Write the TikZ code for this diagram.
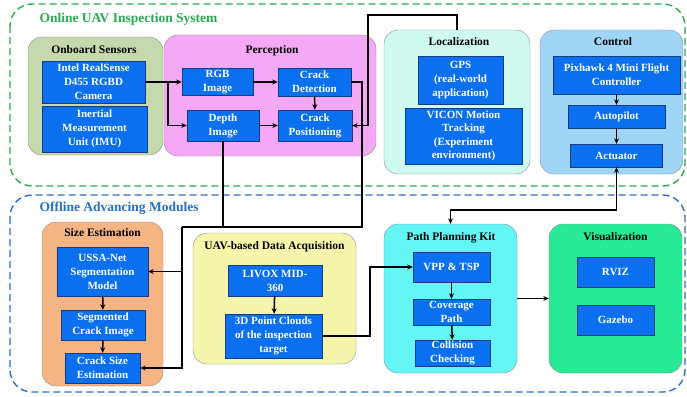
\documentclass[tikz,border=0pt]{standalone}
\usepackage{fontspec}
\setmainfont{Liberation Serif}
\usetikzlibrary{positioning,arrows.meta}

\definecolor{blkblue}{RGB}{10,112,240}
\definecolor{blkedge}{RGB}{20,60,130}
\definecolor{sensgreen}{RGB}{197,217,172}
\definecolor{percpink}{RGB}{245,168,245}
\definecolor{loccyan}{RGB}{206,250,242}
\definecolor{ctrlblue}{RGB}{160,214,245}
\definecolor{sizeorange}{RGB}{245,180,132}
\definecolor{acqyellow}{RGB}{245,245,172}
\definecolor{plancyan}{RGB}{100,245,245}
\definecolor{visgreen}{RGB}{40,234,150}
\definecolor{dashgreen}{RGB}{40,170,80}
\definecolor{dashblue}{RGB}{40,110,195}

\begin{document}
\begin{tikzpicture}[x=1pt,y=-1pt,
                    blk/.style={draw=blkedge,fill=blkblue,text=white,align=center,inner sep=1pt,
                                font=\fontsize{11}{14}\selectfont\bfseries},
                    grp/.style={draw=black!45,rounded corners=14pt,inner sep=0pt},
                    ttl/.style={font=\fontsize{11.5}{13}\selectfont\bfseries},
                    sys/.style={font=\fontsize{13.5}{15}\selectfont\bfseries,anchor=west},
                    arr/.style={line width=1.5pt,-{Stealth[length=5.5pt,width=5pt]}},
                    lnk/.style={line width=1.5pt}]
  \useasboundingbox (0,0) rectangle (687,396);

  % outer dashed frames
  \draw[dashgreen,line width=1.4pt,dash pattern=on 7pt off 4pt,rounded corners=22pt] (10,4) rectangle (685,186);
  \draw[dashblue,line width=1.4pt,dash pattern=on 7pt off 4pt,rounded corners=22pt] (10,195) rectangle (685,392);
  \node[sys,text=dashgreen] (online) at (36,19) {Online UAV Inspection System};
  \node[sys,text=dashblue] (offline) at (36,208) {Offline Advancing Modules};

  % group boxes
  \node[grp,fill=percpink,minimum width=212pt,minimum height=121pt] (perc) at (270,95.5) {};
  \node[grp,fill=sensgreen,minimum width=135pt,minimum height=118pt] (sens) at (95.5,96) {};
  \node[grp,fill=loccyan,minimum width=146pt,minimum height=144pt] (loc) at (457,102) {};
  \node[grp,fill=ctrlblue,minimum width=143pt,minimum height=144pt] (ctrl) at (611.5,102) {};
  \node[grp,fill=sizeorange,minimum width=121pt,minimum height=164pt] (sizeg) at (102.5,304) {};
  \node[grp,fill=acqyellow,minimum width=163pt,minimum height=131pt] (acq) at (274.5,298.5) {};
  \node[grp,fill=plancyan,minimum width=133pt,minimum height=149pt] (plan) at (450.5,298.5) {};
  \node[grp,fill=visgreen,minimum width=133pt,minimum height=149pt] (vis) at (615.5,298.5) {};

  \node[ttl] (senst) at (94,50) {Onboard Sensors};
  \node[ttl] (perct) at (272,51) {Perception};
  \node[ttl] (loct) at (459,42) {Localization};
  \node[ttl] (ctrlt) at (613,42) {Control};
  \node[ttl] (sizet) at (102.5,233) {Size Estimation};
  \node[ttl] (acqt) at (274.5,247) {UAV-based Data Acquisition};
  \node[ttl] (plant) at (451,238) {Path Planning Kit};
  \node[ttl] (vist) at (615.5,237) {Visualization};

  % blocks
  \node[blk,minimum width=103pt,minimum height=42pt] (cam) at (93.5,82) {Intel RealSense\\D455 RGBD\\Camera};
  \node[blk,minimum width=105pt,minimum height=46pt] (imu) at (94.5,129) {Inertial\\Measurement\\Unit (IMU)};
  \node[blk,minimum width=71pt,minimum height=27pt] (rgb) at (217.5,82) {RGB\\Image};
  \node[blk,minimum width=73pt,minimum height=28pt] (det) at (314.5,82) {Crack\\Detection};
  \node[blk,minimum width=72pt,minimum height=31pt] (dep) at (223,125.5) {Depth\\Image};
  \node[blk,minimum width=74pt,minimum height=31pt] (pos) at (315,125.5) {Crack\\Positioning};
  \node[blk,minimum width=85pt,minimum height=48pt] (gps) at (460.5,80) {GPS\\(real-world\\application)};
  \node[blk,minimum width=117pt,minimum height=56pt,font=\fontsize{11}{13.5}\selectfont\bfseries] (vicon) at (463.5,136) {VICON Motion\\Tracking\\(Experiment\\environment)};
  \node[blk,minimum width=127pt,minimum height=38pt] (pix) at (616.5,75) {Pixhawk 4 Mini Flight\\Controller};
  \node[blk,minimum width=97pt,minimum height=23pt] (auto) at (616.5,116.5) {Autopilot};
  \node[blk,minimum width=92pt,minimum height=23pt] (act) at (616.5,155.5) {Actuator};
  \node[blk,minimum width=91pt,minimum height=49pt] (ussa) at (102.5,271.5) {USSA-Net\\Segmentation\\Model};
  \node[blk,minimum width=84pt,minimum height=30pt] (seg) at (103,325) {Segmented\\Crack Image};
  \node[blk,minimum width=75pt,minimum height=30pt] (csize) at (102.5,368) {Crack Size\\Estimation};
  \node[blk,minimum width=94pt,minimum height=31pt] (livox) at (275,280.5) {LIVOX MID-\\360};
  \node[blk,minimum width=97pt,minimum height=44pt] (pcl) at (273.5,336) {3D Point Clouds\\of the inspection\\target};
  \node[blk,minimum width=77pt,minimum height=30pt] (vpp) at (451.5,267) {VPP \& TSP};
  \node[blk,minimum width=77pt,minimum height=26pt] (cov) at (451.5,312) {Coverage\\Path};
  \node[blk,minimum width=75pt,minimum height=26pt] (col) at (452.5,353) {Collision\\Checking};
  \node[blk,minimum width=77pt,minimum height=30pt] (rviz) at (615.5,272) {RVIZ};
  \node[blk,minimum width=77pt,minimum height=30pt] (gaz) at (615.5,320) {Gazebo};

  % bends
  \coordinate (br1) at (168,82);
  \coordinate (bus1) at (362,227);
  \coordinate (bus2) at (182,227);
  \coordinate (lk) at (368,15);
  \coordinate (ak) at (616.5,210);
  \coordinate (pk) at (370,267);

  % connectors
  \draw[arr] (cam.east) -- (rgb.west);
  \draw[arr] (br1) |- (dep.west);
  \draw[arr] (rgb) -- (det);
  \draw[arr] (det) -- (pos);
  \draw[arr] (dep) -- (pos);
  \draw[lnk] (det.east) -| (bus1) -- (bus2);
  \draw[lnk] (dep.south) -- (dep.south |- bus2);
  \draw[arr] (bus2) |- (csize.east);
  \draw[arr] (bus2 |- ussa) -- (ussa.east);
  \draw[arr] (loc.north) |- (lk) |- (pos.east);
  \draw[arr] (pix) -- (auto);
  \draw[arr] (auto) -- (act);
  \draw[line width=1.5pt,{Stealth[length=5.5pt,width=5pt]}-{Stealth[length=5.5pt,width=5pt]}] (act.south) -- (ak) -| (plan.north);
  \draw[arr] (ussa) -- (seg);
  \draw[arr] (seg) -- (csize);
  \draw[arr] (livox) -- (pcl);
  \draw[arr] (pcl.east) -| (pk) -- (vpp.west);
  \draw[arr] (vpp) -- (cov);
  \draw[arr] (cov) -- (col);
  \draw[arr] (plan.east) -- (vis.west);
\end{tikzpicture}
\end{document}
